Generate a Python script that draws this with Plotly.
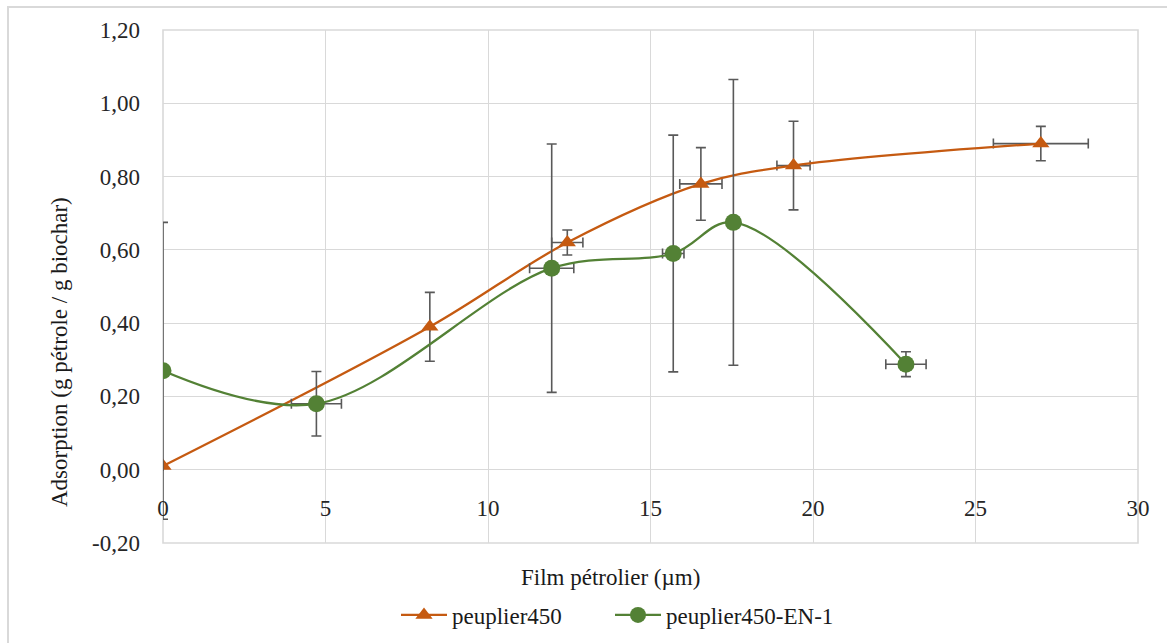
import plotly.graph_objects as go

# --- data ---------------------------------------------------------------
film_450 = [0.0, 8.21, 12.44, 16.55, 19.40, 27.01]          # µm
ads_450 = [0.01, 0.39, 0.62, 0.78, 0.83, 0.89]              # g/g
err_y_450 = [0.0, 0.094, 0.034, 0.099, 0.121, 0.047]
err_x_450 = [0.0, 0.0, 0.48, 0.65, 0.51, 1.46]

film_en = [0.0, 4.72, 11.96, 15.70, 17.55, 22.86]
ads_en = [0.27, 0.18, 0.55, 0.59, 0.675, 0.288]
err_y_en = [0.405, 0.088, 0.339, 0.323, 0.39, 0.034]
err_x_en = [0.0, 0.77, 0.68, 0.33, 0.0, 0.62]

y_ticks = [-0.2, 0.0, 0.2, 0.4, 0.6, 0.8, 1.0, 1.2]
y_tick_labels = ["-0,20", "0,00", "0,20", "0,40", "0,60", "0,80", "1,00", "1,20"]
x_ticks = [0, 5, 10, 15, 20, 25, 30]

# --- styling ------------------------------------------------------------
ORANGE = "#C55A11"
GREEN = "#538135"
ERR = "#595959"
GRID = "#D9D9D9"
FONT = "'Liberation Serif', 'Times New Roman', Times, serif"
FS = 23

W, H = 1167, 643
ML, MR, MT, MB = 163, 29, 30, 100
PW, PH = W - ML - MR, H - MT - MB
Y_MIN, Y_MAX = -0.2, 1.2


def px_to_paper(px, py):
    return (px - ML) / PW, (H - MB - py) / PH


def err_bar(vals):
    return dict(type="data", array=vals, visible=True, color=ERR,
                thickness=1.6, width=5)


def legend_at(px):
    return dict(orientation="h", x=px_to_paper(px, 0)[0], xanchor="left",
                y=px_to_paper(0, 615)[1], yanchor="middle", itemwidth=46,
                font=dict(family=FONT, size=FS, color="#1a1a1a"),
                bgcolor="rgba(0,0,0,0)")


fig = go.Figure()
fig.add_trace(go.Scatter(
    x=film_450, y=ads_450, name="peuplier450", mode="lines+markers",
    line=dict(color=ORANGE, width=2.3, shape="spline", smoothing=1),
    marker=dict(symbol="triangle-up", size=15, color=ORANGE),
    error_y=err_bar(err_y_450), error_x=err_bar(err_x_450),
    legend="legend",
))
fig.add_trace(go.Scatter(
    x=film_en, y=ads_en, name="peuplier450-EN-1", mode="lines+markers",
    line=dict(color=GREEN, width=2.3, shape="spline", smoothing=1),
    marker=dict(symbol="circle", size=17, color=GREEN),
    error_y=err_bar(err_y_en), error_x=err_bar(err_x_en),
    legend="legend2",
))

# horizontal axis labels sit on the y = 0 line
zero_pos = (0 - Y_MIN) / (Y_MAX - Y_MIN)

fig.update_layout(
    width=W, height=H,
    margin=dict(l=ML, r=MR, t=MT, b=MB, autoexpand=False),
    paper_bgcolor="white", plot_bgcolor="white",
    font=dict(family=FONT, size=FS, color="#262626"),
    showlegend=True,
    legend=legend_at(396),
    legend2=legend_at(610),
    xaxis=dict(range=[0, 30], tickvals=x_ticks, showgrid=True,
               gridcolor=GRID, gridwidth=1.4, zeroline=False,
               showline=False, ticks="", anchor="free",
               position=zero_pos, ticklabelstandoff=22, automargin=False,
               tickfont=dict(family=FONT, size=FS, color="#262626")),
    yaxis=dict(range=[Y_MIN, Y_MAX], tickvals=y_ticks, ticktext=y_tick_labels,
               showgrid=True, gridcolor=GRID, gridwidth=1.4, zeroline=False,
               showline=False, ticks="", ticklabelstandoff=22, automargin=False,
               tickfont=dict(family=FONT, size=FS, color="#262626")),
)

# axis titles
tx, ty = px_to_paper(610, 577)
fig.add_annotation(text="Film pétrolier (µm)", x=tx, y=ty, xref="paper",
                   yref="paper", showarrow=False, xanchor="center",
                   yanchor="middle",
                   font=dict(family=FONT, size=FS, color="#1a1a1a"))
tx, ty = px_to_paper(59, 352)
fig.add_annotation(text="Adsorption (g pétrole / g biochar)", x=tx, y=ty,
                   xref="paper", yref="paper", showarrow=False, textangle=-90,
                   xanchor="center", yanchor="middle",
                   font=dict(family=FONT, size=FS, color="#1a1a1a"))

# plot-area border (outer grid lines)
fig.add_shape(type="rect", xref="paper", yref="paper", x0=0, y0=0, x1=1, y1=1,
              line=dict(color=GRID, width=1.6), layer="below")

# chart frame
x0, y0 = px_to_paper(8, 7)
x1, y1 = px_to_paper(1180, 660)
fig.add_shape(type="rect", xref="paper", yref="paper", x0=x0, y0=y1,
              x1=x1, y1=y0, line=dict(color="#D9D9D9", width=2), layer="below")

fig.write_html("out.html")
